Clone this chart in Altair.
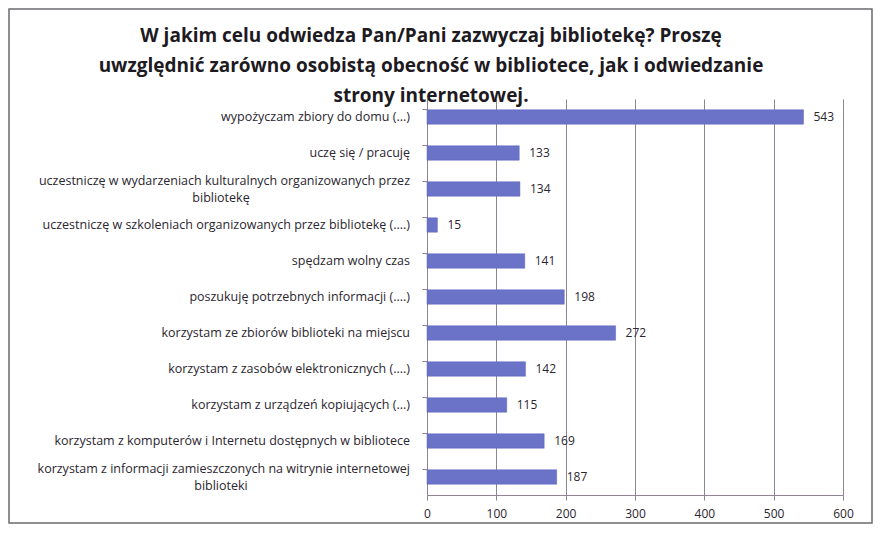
import altair as alt
import pandas as pd

categories = [
    "wypożyczam zbiory do domu (...)",
    "uczę się / pracuję",
    "uczestniczę w wydarzeniach kulturalnych organizowanych przez bibliotekę",
    "uczestniczę w szkoleniach organizowanych przez bibliotekę (....)",
    "spędzam wolny czas",
    "poszukuję potrzebnych informacji (....)",
    "korzystam ze zbiorów biblioteki na miejscu",
    "korzystam z zasobów elektronicznych (....)",
    "korzystam z urządzeń kopiujących (...)",
    "korzystam z komputerów i Internetu dostępnych w bibliotece",
    "korzystam z informacji zamieszczonych na witrynie internetowej biblioteki",
]
values = [543, 133, 134, 15, 141, 198, 272, 142, 115, 169, 187]
label_line1 = [
    "wypożyczam zbiory do domu (...)",
    "uczę się / pracuję",
    "uczestniczę w wydarzeniach kulturalnych organizowanych przez",
    "uczestniczę w szkoleniach organizowanych przez bibliotekę (....)",
    "spędzam wolny czas",
    "poszukuję potrzebnych informacji (....)",
    "korzystam ze zbiorów biblioteki na miejscu",
    "korzystam z zasobów elektronicznych (....)",
    "korzystam z urządzeń kopiujących (...)",
    "korzystam z komputerów i Internetu dostępnych w bibliotece",
    "korzystam z informacji zamieszczonych na witrynie internetowej",
]
label_line2 = ["", "", "bibliotekę", "", "", "", "", "", "", "", "biblioteki"]
x_ticks = [0, 100, 200, 300, 400, 500, 600]
title_lines = [
    "W jakim celu odwiedza Pan/Pani zazwyczaj bibliotekę? Proszę",
    "uwzględnić zarówno osobistą obecność w bibliotece, jak i odwiedzanie",
    "strony internetowej.",
]

df = pd.DataFrame({
    "category": categories,
    "value": values,
    "line1": label_line1,
    "line2": label_line2,
})

FONT = "Open Sans"
TXT = "#2b2630"
GRID = "#8e8496"
FS = 12.5

y_enc = alt.Y(
    "category:N",
    sort=categories,
    scale=alt.Scale(paddingInner=0.6, paddingOuter=0.3),
    axis=alt.Axis(labels=False, title=None, bandPosition=0, tickSize=5,
                  domainColor=GRID, tickColor=GRID, grid=False),
)

base = alt.Chart(df)

bars = base.mark_bar(color="#6b73c8", stroke="#5a62b8", strokeWidth=0.5).encode(
    x=alt.X("value:Q",
            scale=alt.Scale(domain=[0, 600], nice=False),
            axis=alt.Axis(values=x_ticks, title=None, grid=True, gridColor=GRID,
                          gridOpacity=1, domainColor=GRID, tickColor=GRID,
                          tickSize=5, labelFontSize=12, labelFont=FONT,
                          labelColor=TXT, labelPadding=8, labelFlush=False)),
    y=y_enc,
)

value_labels = base.mark_text(align="left", baseline="middle", dx=10,
                              fontSize=12, font=FONT, color=TXT).encode(
    x="value:Q", y=y_enc, text="value:Q")

single = base.transform_filter("datum.line2 == ''").mark_text(
    align="right", baseline="middle", fontSize=FS, font=FONT, color=TXT).encode(
    x=alt.value(-17), y=y_enc, text="line1:N")

first = base.transform_filter("datum.line2 != ''").mark_text(
    align="right", baseline="middle", dy=-8, fontSize=FS, font=FONT, color=TXT).encode(
    x=alt.value(-17), y=y_enc, text="line1:N")

second = base.transform_filter("datum.line2 != ''").mark_text(
    align="center", baseline="middle", dy=9, fontSize=FS, font=FONT, color=TXT).encode(
    x=alt.value(-206), y=y_enc, text="line2:N")

title = alt.Chart(pd.DataFrame({"t": ["\n".join(title_lines)]})).mark_text(
    align="center", baseline="middle", lineBreak="\n", lineHeight=30,
    fontSize=19, font=FONT, fontWeight="bold", color="#1e1a22").encode(
    x=alt.value(4), y=alt.value(-63), text="t:N")

frame = alt.Chart(pd.DataFrame({"f": [0]})).mark_rect(
    fill=None, stroke="#6e6a70", strokeWidth=1.5).encode(
    x=alt.value(-418), x2=alt.value(445), y=alt.value(-90), y2=alt.value(424))

chart = alt.layer(frame, bars, value_labels, single, first, second, title).properties(
    width=416,
    height=396,
    autosize=alt.AutoSizeParams(type="none"),
    padding={"left": 419, "top": 91, "right": 30, "bottom": 30},
    background="white",
).configure_view(stroke=None)

chart.save("out.html", embed_options={"renderer": "svg", "actions": False})
